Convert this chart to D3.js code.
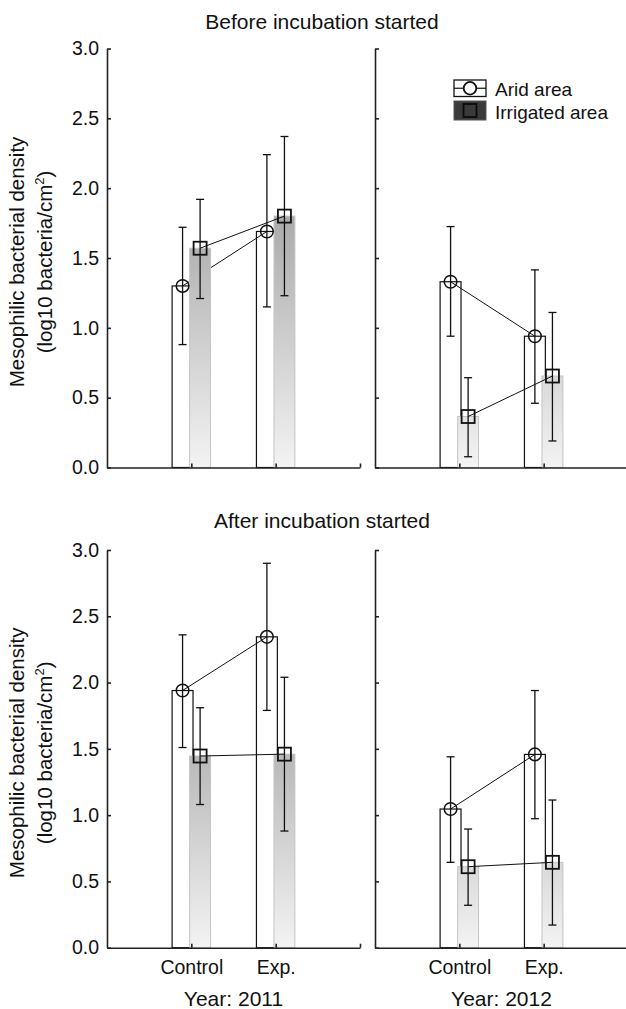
<!DOCTYPE html>
<html>
<head>
    <meta charset="utf-8">
    <style>
        body { margin: 0; background: white; }
        svg { display: block; font-family: "Liberation Sans", Arial, sans-serif; }
        .axis text { font-size: 19.5px; fill: #111; }
        .axis path, .axis line { stroke: #222; stroke-width: 1.6px; }
    </style>
</head>
<body>
<svg width="626" height="1009"></svg>

<script src="https://d3js.org/d3.v7.min.js"></script>
<script>
    // categories
    let phases = ["Before incubation started", "After incubation started"]
    let years = ["Year: 2011", "Year: 2012"]
    let treatments = ["Control", "Exp."]
    let yTicks = [0, 0.5, 1.0, 1.5, 2.0, 2.5, 3.0]

    // values, order: 2011 Control, 2011 Exp., 2012 Control, 2012 Exp.
    let aridBefore   = [1.30, 1.69, 1.33, 0.94]
    let aridBeforeLo = [0.88, 1.15, 0.94, 0.46]
    let aridBeforeHi = [1.72, 2.24, 1.725, 1.415]
    let irrBefore    = [1.57, 1.80, 0.365, 0.655]
    let irrBeforeLo  = [1.21, 1.23, 0.077, 0.19]
    let irrBeforeHi  = [1.92, 2.37, 0.643, 1.11]

    let aridAfter    = [1.94, 2.345, 1.046, 1.458]
    let aridAfterLo  = [1.51, 1.79, 0.644, 0.973]
    let aridAfterHi  = [2.36, 2.90, 1.44, 1.94]
    let irrAfter     = [1.446, 1.46, 0.611, 0.644]
    let irrAfterLo   = [1.08, 0.88, 0.32, 0.171]
    let irrAfterHi   = [1.81, 2.04, 0.895, 1.114]

    let svg = d3.select("svg")

    // panel geometry
    let cols = [[107, 360], [375, 628]]
    let rows = [[467.5, 48.5], [947.7, 550]]
    let offset = 0.104   // bar centre offset from category (x units)
    let halfW = 0.124    // half bar width (x units)

    let rowData = [
        { arid: aridBefore, aridLo: aridBeforeLo, aridHi: aridBeforeHi,
          irr: irrBefore, irrLo: irrBeforeLo, irrHi: irrBeforeHi },
        { arid: aridAfter, aridLo: aridAfterLo, aridHi: aridAfterHi,
          irr: irrAfter, irrLo: irrAfterLo, irrHi: irrAfterHi }
    ]

    let defs = svg.append("defs")

    rows.forEach(function (r, ri) {
        let y = d3.scaleLinear().domain([0, 3]).range(r)

        // gradient for irrigated bars, fixed to the plot height
        let grad = defs.append("linearGradient")
            .attr("id", "irrGrad" + ri)
            .attr("gradientUnits", "userSpaceOnUse")
            .attr("x1", 0).attr("x2", 0)
            .attr("y1", y(0)).attr("y2", y(2))
        grad.append("stop").attr("offset", "0%").attr("stop-color", "#f3f3f3")
        grad.append("stop").attr("offset", "100%").attr("stop-color", "#a2a2a2")

        // phase title
        svg.append("text")
            .attr("x", 322)
            .attr("y", ri == 0 ? 29 : 528)
            .attr("text-anchor", "middle")
            .style("font-size", "21px")
            .style("fill", "#111")
            .text(phases[ri])

        // y axis title
        let yMid = (r[0] + r[1]) / 2 + 4
        let ylab = svg.append("text")
            .attr("transform", `translate(24,${yMid}) rotate(-90)`)
            .attr("text-anchor", "middle")
            .style("font-size", "20.5px")
            .style("fill", "#111")
        ylab.append("tspan").attr("x", 0).attr("dy", 0).text("Mesophilic bacterial density")
        let l2 = ylab.append("tspan").attr("x", 0).attr("dy", 28).text("(log10 bacteria/cm")
        ylab.append("tspan").attr("dy", -8).style("font-size", "13px").text("2")
        ylab.append("tspan").attr("dy", 8).text(")")

        cols.forEach(function (c, ci) {
            let x = d3.scaleLinear().domain([0, 3]).range(c)
            let d = rowData[ri]
            let idx = [ci * 2, ci * 2 + 1]
            let pts = idx.map(function (k, t) {
                return {
                    pos: t + 1,
                    arid: d.arid[k], aridLo: d.aridLo[k], aridHi: d.aridHi[k],
                    irr: d.irr[k], irrLo: d.irrLo[k], irrHi: d.irrHi[k]
                }
            })

            let g = svg.append("g")

            // arid bars (white)
            g.selectAll(".arid")
                .data(pts)
                .join("rect")
                .attr("x", p => x(p.pos - offset - halfW))
                .attr("width", p => x(p.pos - offset + halfW) - x(p.pos - offset - halfW))
                .attr("y", p => y(p.arid))
                .attr("height", p => y(0) - y(p.arid))
                .style("fill", "white")
                .style("stroke", "#111")
                .style("stroke-width", 1.2)

            // arid connecting line (under irrigated bars)
            g.append("path")
                .datum(pts)
                .attr("d", d3.line().x(p => x(p.pos - offset)).y(p => y(p.arid)))
                .style("fill", "none")
                .style("stroke", "#111")
                .style("stroke-width", 1)

            // irrigated bars (grey gradient)
            g.selectAll(".irr")
                .data(pts)
                .join("rect")
                .attr("x", p => x(p.pos + offset - halfW))
                .attr("width", p => x(p.pos + offset + halfW) - x(p.pos + offset - halfW))
                .attr("y", p => y(p.irr))
                .attr("height", p => y(0) - y(p.irr))
                .style("fill", `url(#irrGrad${ri})`)
                .style("stroke", "#c4c4c4")
                .style("stroke-width", 1)

            g.append("path")
                .datum(pts)
                .attr("d", d3.line().x(p => x(p.pos + offset)).y(p => y(p.irr)))
                .style("fill", "none")
                .style("stroke", "#111")
                .style("stroke-width", 1)

            // error bars
            let series = [
                { off: -offset, v: "arid", lo: "aridLo", hi: "aridHi" },
                { off: offset, v: "irr", lo: "irrLo", hi: "irrHi" }
            ]
            series.forEach(function (s) {
                let eg = g.selectAll(null).data(pts).join("g")
                eg.append("line")
                    .attr("x1", p => x(p.pos + s.off)).attr("x2", p => x(p.pos + s.off))
                    .attr("y1", p => y(p[s.lo])).attr("y2", p => y(p[s.hi]))
                    .style("stroke", "#111").style("stroke-width", 1.3)
                ;[s.lo, s.hi].forEach(function (key) {
                    eg.append("line")
                        .attr("x1", p => x(p.pos + s.off) - 4).attr("x2", p => x(p.pos + s.off) + 4)
                        .attr("y1", p => y(p[key])).attr("y2", p => y(p[key]))
                        .style("stroke", "#111").style("stroke-width", 1.3)
                })
            })

            // markers
            g.selectAll(".circ")
                .data(pts)
                .join("circle")
                .attr("cx", p => x(p.pos - offset))
                .attr("cy", p => y(p.arid))
                .attr("r", 6.3)
                .style("fill", "none")
                .style("stroke", "#111")
                .style("stroke-width", 1.5)

            g.selectAll(".sq")
                .data(pts)
                .join("rect")
                .attr("x", p => x(p.pos + offset) - 6.5)
                .attr("y", p => y(p.irr) - 6.5)
                .attr("width", 13)
                .attr("height", 13)
                .style("fill", "none")
                .style("stroke", "#111")
                .style("stroke-width", 1.8)

            // axes
            let yAxis = d3.axisLeft(y)
                .tickValues(yTicks)
                .tickSize(-4)
                .tickSizeOuter(0)
                .tickPadding(8)
                .tickFormat(ci == 0 ? d3.format(".1f") : "")
            svg.append("g")
                .attr("class", "axis")
                .attr("transform", `translate(${c[0]},0)`)
                .call(yAxis)

            let xAxis = d3.axisBottom(x)
                .tickValues([1, 2, 3])
                .tickSize(-4)
                .tickSizeOuter(0)
                .tickPadding(12)
                .tickFormat(function (v) {
                    if (ri == 1 && v < 3) return treatments[v - 1]
                    return ""
                })
            svg.append("g")
                .attr("class", "axis")
                .attr("transform", `translate(0,${y(0)})`)
                .call(xAxis)

            if (ri == 1) {
                svg.append("text")
                    .attr("x", (c[0] + c[1]) / 2)
                    .attr("y", 1006)
                    .attr("text-anchor", "middle")
                    .style("font-size", "21px")
                    .style("fill", "#111")
                    .text(years[ci])
            }
        })
    })

    // legend
    let legend = svg.append("g").attr("transform", "translate(454,80)")
    legend.append("rect")
        .attr("width", 32).attr("height", 16.5)
        .style("fill", "white").style("stroke", "#111").style("stroke-width", 1.3)
    legend.append("line")
        .attr("x1", 0).attr("x2", 32).attr("y1", 8.25).attr("y2", 8.25)
        .style("stroke", "#111").style("stroke-width", 1.2)
    legend.append("circle")
        .attr("cx", 16).attr("cy", 8.25).attr("r", 6.3)
        .style("fill", "white").style("stroke", "#111").style("stroke-width", 1.8)
    legend.append("rect")
        .attr("y", 21).attr("width", 32).attr("height", 19)
        .style("fill", "#3a3a3a").style("stroke", "#555").style("stroke-width", 1)
    legend.append("rect")
        .attr("x", 9.5).attr("y", 24).attr("width", 13).attr("height", 13)
        .style("fill", "none").style("stroke", "#0a0a0a").style("stroke-width", 1.8)
    legend.append("text")
        .attr("x", 41).attr("y", 15.5)
        .style("font-size", "19px").style("fill", "#111")
        .text("Arid area")
    legend.append("text")
        .attr("x", 41).attr("y", 39)
        .style("font-size", "19px").style("fill", "#111")
        .text("Irrigated area")
</script>
</body>
</html>
